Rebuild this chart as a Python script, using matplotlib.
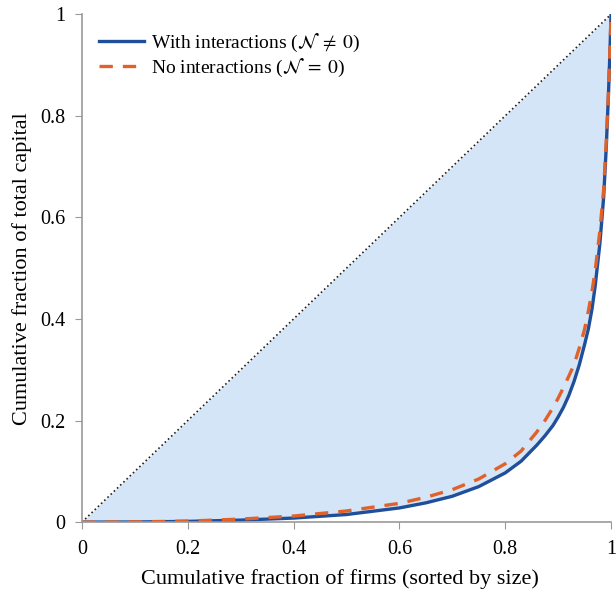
import numpy as np
import matplotlib
matplotlib.use('Agg')
import matplotlib.pyplot as plt

plt.rcParams['font.family'] = ['Liberation Serif', 'DejaVu Serif']
plt.rcParams['mathtext.fontset'] = 'stix'

# cumulative fraction of firms, and cumulative capital for the two cases
firms = [0.0, 0.1, 0.2, 0.3, 0.4, 0.5, 0.6, 0.65, 0.7, 0.75, 0.8, 0.83, 0.86,
         0.875, 0.89, 0.9, 0.91, 0.92, 0.93, 0.94, 0.95, 0.957, 0.964, 0.97,
         0.979, 0.986, 0.991, 0.995, 0.998, 1.0]
with_inter = [0.0, 0.0003, 0.0015, 0.004, 0.008, 0.015, 0.028, 0.038, 0.051,
              0.07, 0.097, 0.12, 0.152, 0.17, 0.19, 0.207, 0.226, 0.249,
              0.277, 0.31, 0.35, 0.38, 0.42, 0.465, 0.55, 0.64, 0.74, 0.84,
              0.93, 1.0]
no_inter = [0.0, 0.0005, 0.002, 0.006, 0.012, 0.022, 0.037, 0.049, 0.064,
            0.085, 0.115, 0.14, 0.178, 0.2, 0.225, 0.244, 0.265, 0.287,
            0.31, 0.343, 0.38, 0.415, 0.455, 0.495, 0.575, 0.655, 0.75,
            0.845, 0.935, 1.0]

fig = plt.figure(figsize=(6.16, 5.92), dpi=100)
ax = fig.add_axes([0.133, 0.118, 0.859, 0.858])

ax.fill_between(firms, with_inter, firms, color='#d3e5f6', lw=0)
ax.plot([0, 1], [0, 1], ls=':', color='#222222', lw=1.2)
ax.plot(firms, with_inter, color='#1f4f9b', lw=2.4,
        label=r'With interactions ($\mathcal{N}\;\neq\;0$)')
ax.plot(firms, no_inter, color='#e0612a', lw=2.4, ls=(0, (4, 3)),
        label=r'No interactions ($\mathcal{N}\;=\;0$)')

ax.set_xlim(0, 1)
ax.set_ylim(0, 1)
ticks = [0, 0.2, 0.4, 0.6, 0.8, 1]
labels = ['0', '0.2', '0.4', '0.6', '0.8', '1']
ax.set_xticks(ticks)
ax.set_xticklabels(labels)
ax.set_yticks(ticks)
ax.set_yticklabels(labels)
ax.tick_params(direction='out', length=5, color='#999999', labelsize=14.5)
ax.tick_params(axis='x', pad=8)
ax.tick_params(axis='y', pad=7)
for s in ['top', 'right']:
    ax.spines[s].set_visible(False)
for s in ['left', 'bottom']:
    ax.spines[s].set_color('#999999')
    ax.spines[s].set_linewidth(1.2)

ax.set_xlabel('Cumulative fraction of firms (sorted by size)', fontsize=16,
              labelpad=7)
ax.xaxis.label.set_x(0.488)
ax.set_ylabel('Cumulative fraction of total capital', fontsize=16, labelpad=6)

ax.legend(loc='upper left', frameon=False, fontsize=14, handlelength=2.3,
          handletextpad=0.35, borderaxespad=0.5, labelspacing=0.15)

fig.savefig('out.png', dpi=100)
